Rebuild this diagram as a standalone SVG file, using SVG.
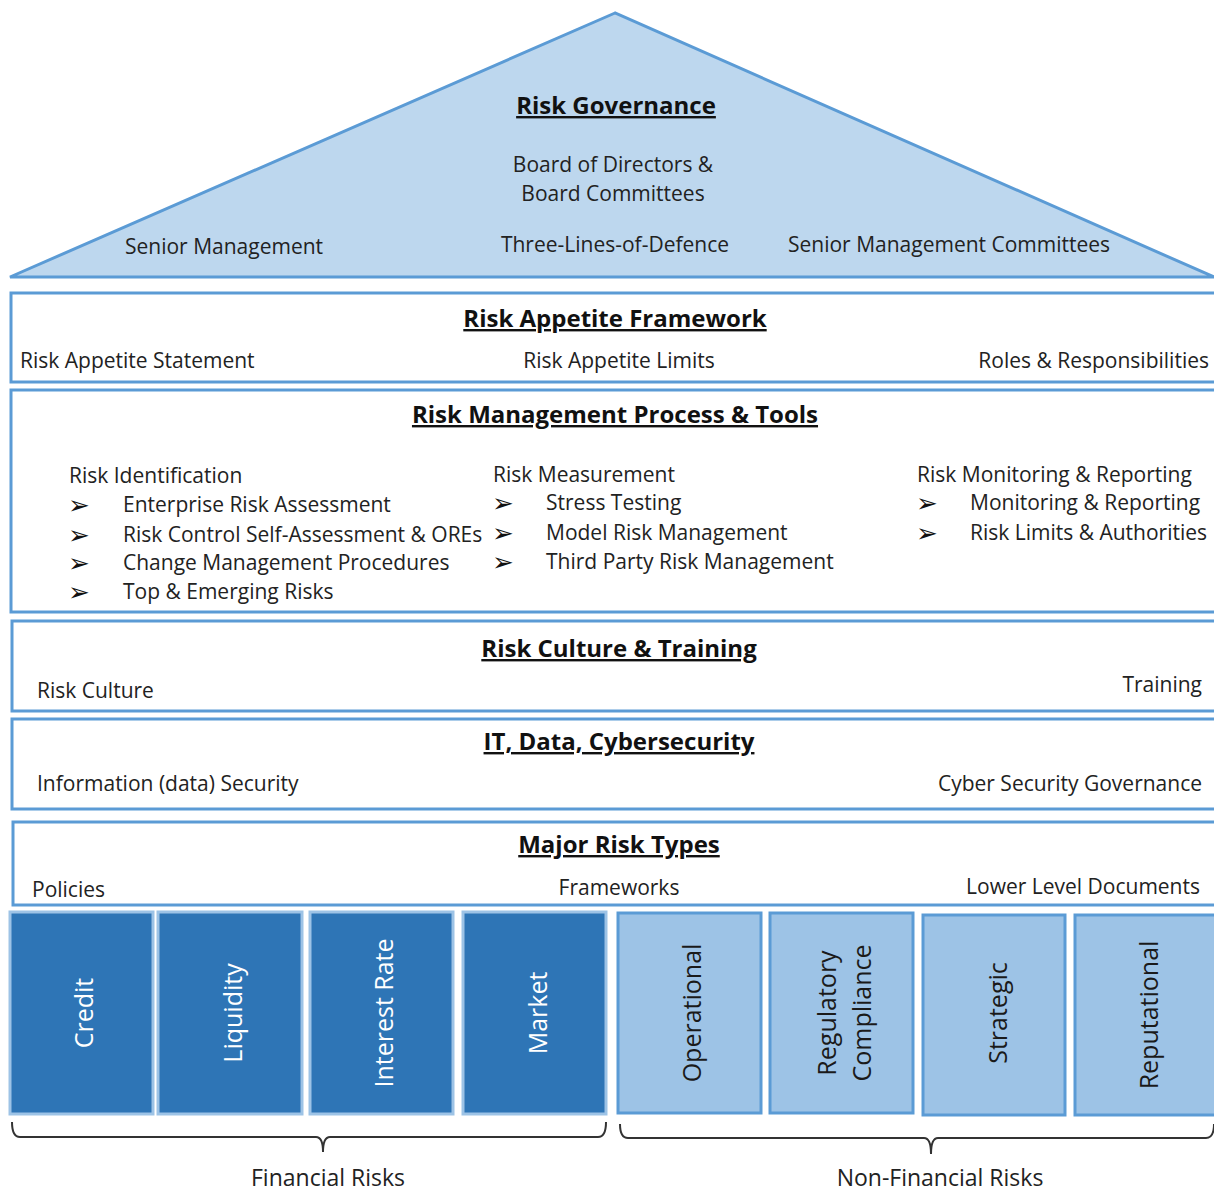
<svg xmlns="http://www.w3.org/2000/svg" width="1214" height="1191" viewBox="0 0 1214 1191">
<style>
.box{fill:#ffffff;stroke:#5B9BD5;stroke-width:3}
.tri{fill:#BDD7EE;stroke:#5B9BD5;stroke-width:3;stroke-linejoin:miter}
.title{font-family:"Open Sans",sans-serif;font-weight:bold;font-size:24px;fill:#111;text-anchor:middle;text-decoration:underline}
.t{font-family:"Open Sans",sans-serif;font-size:21px;fill:#222}
.m{text-anchor:middle}
.e{text-anchor:end}
.b{font-family:"DejaVu Sans",sans-serif;font-size:26px;fill:#111}
.dark{fill:#2E75B6;stroke:#9DC3E6;stroke-width:3}
.light{fill:#9DC3E6;stroke:#5B9BD5;stroke-width:3}
.col{font-family:"Open Sans",sans-serif;font-size:25px;text-anchor:middle;dominant-baseline:central}
.cw{fill:#ffffff}
.ck{fill:#1a1a1a}
.br{fill:none;stroke:#333;stroke-width:2}
.lab{font-family:"Open Sans",sans-serif;font-size:23px;fill:#222;text-anchor:middle}
</style>
<g id="governance">
<polygon class="tri" points="615,13 10,277 1214,277"/>
<text class="title" x="616" y="114">Risk Governance</text>
<text class="t m" x="613" y="172">Board of Directors &amp;</text>
<text class="t m" x="613" y="201">Board Committees</text>
<text class="t" x="125" y="254">Senior Management</text>
<text class="t m" x="615" y="252">Three-Lines-of-Defence</text>
<text class="t" x="788" y="252">Senior Management Committees</text>
</g>
<g id="appetite">
<rect class="box" x="11" y="293" width="1210" height="89"/>
<text class="title" x="615" y="327">Risk Appetite Framework</text>
<text class="t" x="20" y="368">Risk Appetite Statement</text>
<text class="t m" x="619" y="368">Risk Appetite Limits</text>
<text class="t e" x="1209" y="368">Roles &amp; Responsibilities</text>
</g>
<g id="process">
<rect class="box" x="11" y="390" width="1210" height="222"/>
<text class="title" x="615" y="423">Risk Management Process &amp; Tools</text>
<text class="t" x="69" y="483">Risk Identification</text>
<text class="b" x="68" y="514">➢</text>
<text class="t" x="123" y="512">Enterprise Risk Assessment</text>
<text class="b" x="68" y="544">➢</text>
<text class="t" x="123" y="542">Risk Control Self-Assessment &amp; OREs</text>
<text class="b" x="68" y="572">➢</text>
<text class="t" x="123" y="570">Change Management Procedures</text>
<text class="b" x="68" y="601">➢</text>
<text class="t" x="123" y="599">Top &amp; Emerging Risks</text>
<text class="t" x="493" y="482">Risk Measurement</text>
<text class="b" x="492" y="512">➢</text>
<text class="t" x="546" y="510">Stress Testing</text>
<text class="b" x="492" y="542">➢</text>
<text class="t" x="546" y="540">Model Risk Management</text>
<text class="b" x="492" y="571">➢</text>
<text class="t" x="546" y="569">Third Party Risk Management</text>
<text class="t" x="917" y="482">Risk Monitoring &amp; Reporting</text>
<text class="b" x="916" y="512">➢</text>
<text class="t" x="970" y="510">Monitoring &amp; Reporting</text>
<text class="b" x="916" y="542">➢</text>
<text class="t" x="970" y="540">Risk Limits &amp; Authorities</text>
</g>
<g id="culture">
<rect class="box" x="12" y="621" width="1210" height="90"/>
<text class="title" x="619" y="657">Risk Culture &amp; Training</text>
<text class="t" x="37" y="698">Risk Culture</text>
<text class="t e" x="1202" y="692">Training</text>
</g>
<g id="it">
<rect class="box" x="12" y="719" width="1210" height="90"/>
<text class="title" x="619" y="750">IT, Data, Cybersecurity</text>
<text class="t" x="37" y="791">Information (data) Security</text>
<text class="t e" x="1202" y="791">Cyber Security Governance</text>
</g>
<g id="majortypes">
<rect class="box" x="13" y="822" width="1210" height="83"/>
<text class="title" x="619" y="853">Major Risk Types</text>
<text class="t" x="32" y="897">Policies</text>
<text class="t m" x="619" y="895">Frameworks</text>
<text class="t e" x="1200" y="894">Lower Level Documents</text>
</g>
<g id="credit"><rect class="dark" x="10" y="912" width="143" height="202"/><text class="col cw" transform="translate(83,1013) rotate(-90)">Credit</text></g>
<g id="liquidity"><rect class="dark" x="158" y="912" width="144" height="202"/><text class="col cw" transform="translate(232,1013) rotate(-90)">Liquidity</text></g>
<g id="interest-rate"><rect class="dark" x="310" y="912" width="143" height="202"/><text class="col cw" transform="translate(383,1013) rotate(-90)">Interest Rate</text></g>
<g id="market"><rect class="dark" x="463" y="912" width="143" height="202"/><text class="col cw" transform="translate(537,1013) rotate(-90)">Market</text></g>
<g id="operational"><rect class="light" x="618" y="913" width="143" height="200"/><text class="col ck" transform="translate(691,1013) rotate(-90)">Operational</text></g>
<g id="regulatory"><rect class="light" x="770" y="913" width="143" height="200"/><text class="col ck" transform="translate(826,1013) rotate(-90)">Regulatory</text><text class="col ck" transform="translate(861,1013) rotate(-90)">Compliance</text></g>
<g id="strategic"><rect class="light" x="923" y="915" width="142" height="200"/><text class="col ck" transform="translate(997,1013) rotate(-90)">Strategic</text></g>
<g id="reputational"><rect class="light" x="1075" y="915" width="145" height="200"/><text class="col ck" transform="translate(1148,1015) rotate(-90)">Reputational</text></g>
<g id="connectors">
<path class="br" d="M12,1122 Q12,1137 20,1137 L316,1137 Q323,1137 323,1152 Q323,1137 330,1137 L598,1137 Q606,1137 606,1122"/>
<path class="br" d="M620,1124 Q620,1138 628,1138 L924,1138 Q931,1138 931,1154 Q931,1138 938,1138 L1206,1138 Q1214,1138 1214,1124"/>
</g>
<g id="labels">
<text class="lab" x="328" y="1186">Financial Risks</text>
<text class="lab" x="940" y="1186">Non-Financial Risks</text>
</g>
</svg>
